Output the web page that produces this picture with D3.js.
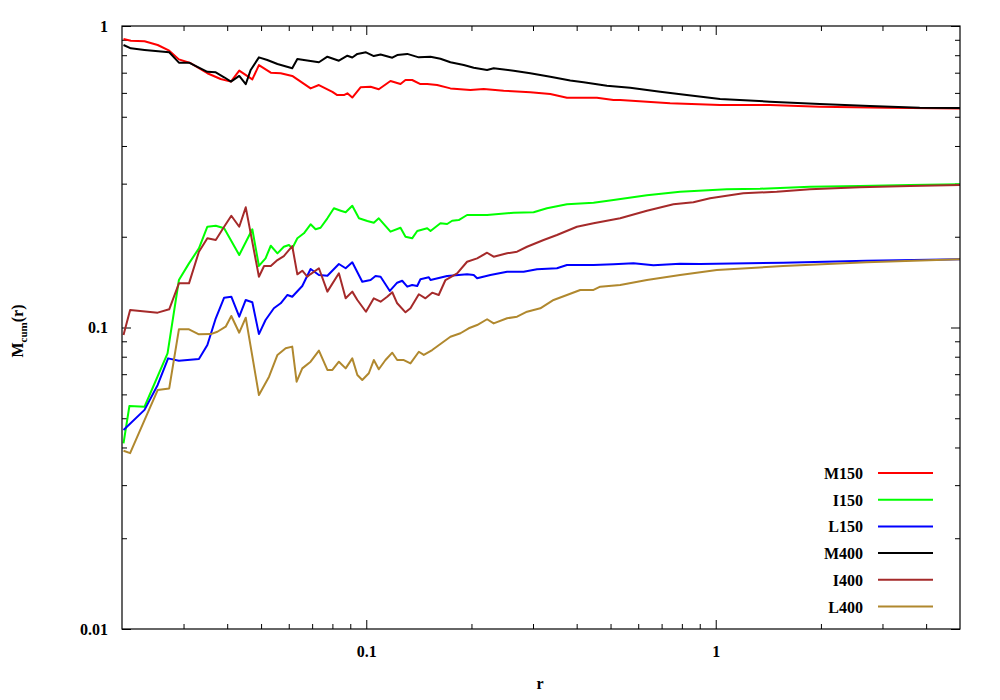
<!DOCTYPE html>
<html>
<head>
<meta charset="utf-8">
<script src="https://cdn.jsdelivr.net/npm/d3@7"></script>
<style>
  html, body { margin: 0; padding: 0; background: #ffffff; }
  svg text { font-family: "Liberation Serif", "Times New Roman", serif; font-weight: bold; }
</style>
</head>
<body>
<svg id="chart" width="1000" height="700"></svg>
<script>
// ---- Data ----
const seriesNames = ["M150", "I150", "L150", "M400", "I400", "L400"];
const seriesColors = ["#ff0000", "#00ff00", "#0000ff", "#000000", "#a52a2a", "#b0882e"];

const rM150 = [0.0202,0.0212,0.0232,0.0253,0.0273,0.0291,0.0315,0.0351,0.0383,0.0410,0.0433,0.0472,0.0493,0.0533,0.0569,0.0614,0.0693,0.0732,0.0800,0.0826,0.0863,0.0883,0.0912,0.0963,0.1029,0.1086,0.1173,0.1253,0.1295,0.1353,0.1429,0.1494,0.1595,0.1741,0.1986,0.2168,0.2473,0.2947,0.3362,0.3752,0.4571,0.5098,0.5328,0.7403,1.029,1.429,1.986,3.080,5.0];
const mM150 = [0.906,0.894,0.890,0.865,0.828,0.775,0.752,0.697,0.667,0.654,0.711,0.665,0.742,0.700,0.697,0.683,0.621,0.637,0.605,0.590,0.590,0.598,0.579,0.626,0.629,0.617,0.657,0.642,0.662,0.662,0.642,0.642,0.637,0.621,0.613,0.618,0.610,0.603,0.595,0.578,0.578,0.568,0.568,0.554,0.547,0.547,0.540,0.536,0.533];

const rI150 = [0.0202,0.0210,0.0232,0.0270,0.0291,0.0311,0.0332,0.0351,0.0371,0.0392,0.0433,0.0472,0.0493,0.0515,0.0533,0.0557,0.0581,0.0601,0.0614,0.0635,0.0663,0.0693,0.0716,0.0740,0.0774,0.0808,0.0845,0.0873,0.0912,0.0953,0.1007,0.1051,0.1086,0.1173,0.1253,0.1295,0.1353,0.1399,0.1494,0.1527,0.1630,0.1704,0.1761,0.1839,0.1943,0.2217,0.2641,0.3012,0.3289,0.3752,0.4470,0.5098,0.6353,0.7907,1.075,1.338,1.860,2.584,3.591,5.0];
const mI150 = [0.0413,0.0549,0.0546,0.0821,0.1437,0.1632,0.1830,0.2159,0.2176,0.2133,0.1739,0.2117,0.1600,0.1696,0.1867,0.1762,0.1853,0.1878,0.1830,0.1976,0.2053,0.2199,0.2117,0.2142,0.2302,0.2485,0.2440,0.2410,0.2535,0.2302,0.2255,0.2226,0.2302,0.2079,0.2142,0.2001,0.1976,0.2090,0.2133,0.2090,0.2216,0.2204,0.2260,0.2272,0.2361,0.2361,0.2403,0.2410,0.2485,0.2562,0.2593,0.2647,0.2745,0.2821,0.2873,0.2886,0.2931,0.2946,0.2970,0.2985];

const rL150 = [0.0202,0.0232,0.0253,0.0271,0.0291,0.0332,0.0351,0.0371,0.0392,0.0411,0.0433,0.0452,0.0472,0.0493,0.0515,0.0544,0.0569,0.0595,0.0614,0.0656,0.0693,0.0732,0.0774,0.0835,0.0873,0.0912,0.0974,0.1029,0.1063,0.1099,0.1168,0.1226,0.1267,0.1310,0.1353,0.1399,0.1429,0.1510,0.1527,0.1704,0.1943,0.2030,0.2076,0.2265,0.2529,0.2820,0.3080,0.3513,0.3752,0.4470,0.5098,0.5816,0.6634,0.7907,0.9018,1.560,2.701,5.0];
const mL150 = [0.0457,0.0533,0.0645,0.0790,0.0776,0.0786,0.0875,0.1073,0.1256,0.1265,0.1086,0.1234,0.1213,0.0951,0.1059,0.1158,0.1203,0.1282,0.1265,0.1373,0.1563,0.1493,0.1485,0.1624,0.1572,0.1645,0.1418,0.1437,0.1481,0.1474,0.1322,0.1408,0.1429,0.1366,0.1384,0.1373,0.1445,0.1467,0.1437,0.1481,0.1501,0.1493,0.1456,0.1493,0.1531,0.1531,0.1560,0.1572,0.1612,0.1612,0.1620,0.1632,0.1608,0.1627,0.1624,0.1640,0.1665,0.1683];

const rM400 = [0.0202,0.0212,0.0232,0.0273,0.0291,0.0311,0.0351,0.0371,0.0392,0.0410,0.0433,0.0452,0.0467,0.0493,0.0521,0.0557,0.0614,0.0635,0.0663,0.0732,0.0774,0.0835,0.0883,0.0912,0.0943,0.0998,0.1051,0.1099,0.1187,0.1226,0.1310,0.1414,0.1527,0.1630,0.1741,0.1901,0.2030,0.2217,0.2315,0.2641,0.2947,0.3362,0.3834,0.4185,0.4882,0.5690,0.6934,0.8263,1.029,1.429,1.986,2.760,3.834,5.0];
const mM400 = [0.865,0.843,0.833,0.818,0.756,0.756,0.705,0.702,0.676,0.654,0.683,0.641,0.715,0.787,0.771,0.748,0.724,0.777,0.771,0.758,0.791,0.767,0.797,0.786,0.808,0.818,0.795,0.804,0.785,0.801,0.808,0.787,0.791,0.779,0.758,0.742,0.727,0.715,0.724,0.711,0.697,0.679,0.659,0.651,0.634,0.624,0.605,0.590,0.573,0.561,0.551,0.543,0.536,0.535];

const rI400 = [0.0202,0.0211,0.0253,0.0273,0.0291,0.0311,0.0332,0.0351,0.0371,0.0392,0.0411,0.0433,0.0452,0.0493,0.0510,0.0533,0.0557,0.0581,0.0614,0.0635,0.0656,0.0678,0.0693,0.0732,0.0774,0.0835,0.0873,0.0912,0.0943,0.0998,0.1051,0.1099,0.1148,0.1187,0.1226,0.1295,0.1338,0.1414,0.1477,0.1544,0.1612,0.1685,0.1820,0.1943,0.2076,0.2217,0.2315,0.2529,0.2701,0.2884,0.3217,0.3513,0.4007,0.4470,0.5328,0.6353,0.7567,0.8630,0.9632,1.199,1.494,1.860,2.584,3.591,5.0];
const mI400 = [0.0944,0.1143,0.1120,0.1149,0.1401,0.1401,0.1784,0.1976,0.1951,0.2159,0.2348,0.2159,0.2504,0.1474,0.1600,0.1600,0.1674,0.1726,0.1863,0.1501,0.1543,0.1474,0.1504,0.1572,0.1315,0.1513,0.1250,0.1315,0.1234,0.1128,0.1250,0.1218,0.1265,0.1309,0.1203,0.1123,0.1158,0.1289,0.1250,0.1305,0.1282,0.1437,0.1513,0.1652,0.1696,0.1770,0.1717,0.1762,0.1784,0.1853,0.1951,0.2027,0.2159,0.2216,0.2302,0.2440,0.2562,0.2601,0.2682,0.2787,0.2821,0.2873,0.2917,0.2946,0.2970];

const rL400 = [0.0202,0.0211,0.0232,0.0253,0.0273,0.0291,0.0311,0.0332,0.0359,0.0375,0.0396,0.0411,0.0433,0.0452,0.0493,0.0527,0.0557,0.0588,0.0614,0.0632,0.0656,0.0693,0.0732,0.0774,0.0800,0.0835,0.0873,0.0912,0.0943,0.0974,0.1017,0.1051,0.1086,0.1135,0.1187,0.1226,0.1281,0.1338,0.1414,0.1461,0.1544,0.1630,0.1741,0.1860,0.1964,0.2076,0.2217,0.2315,0.2529,0.2701,0.2884,0.3148,0.3436,0.3752,0.4095,0.4470,0.4671,0.5328,0.6353,0.7907,1.007,1.560,2.701,5.0];
const mL400 = [0.0390,0.0383,0.0493,0.0620,0.0628,0.0986,0.0986,0.0949,0.0951,0.0968,0.1006,0.1092,0.0961,0.1078,0.0597,0.0687,0.0811,0.0853,0.0864,0.0661,0.0732,0.0770,0.0838,0.0723,0.0723,0.0770,0.0732,0.0790,0.0696,0.0670,0.0705,0.0780,0.0727,0.0780,0.0825,0.0780,0.0780,0.0760,0.0831,0.0811,0.0842,0.0882,0.0932,0.0957,0.0994,0.1019,0.1065,0.1032,0.1073,0.1086,0.1128,0.1158,0.1234,0.1282,0.1332,0.1332,0.1366,0.1384,0.1437,0.1493,0.1551,0.1600,0.1645,0.1683];

const xMajorTicks = [0.1, 1];
const xTickLabels = ["0.1", "1"];
const yMajorTicks = [0.01, 0.1, 1];
const yTickLabels = ["0.01", "0.1", "1"];
const xDomain = [0.02, 5];
const yDomain = [0.01, 1];
const xTitle = "r";

// ---- Build ----
const seriesR = [rM150, rI150, rL150, rM400, rI400, rL400];
const seriesM = [mM150, mI150, mL150, mM400, mI400, mL400];
const series = seriesNames.map((name, i) => ({
  name, color: seriesColors[i],
  pts: seriesR[i].map((r, j) => [r, seriesM[i][j]])
}));

const svg = d3.select("#chart");
const L = 122, R = 960, T = 26, B = 629;
const FS = "16px";

const x = d3.scaleLog().domain(xDomain).range([L, R]);
const y = d3.scaleLog().domain(yDomain).range([B, T]);

const isMajor = v => Math.abs(Math.log10(v) - Math.round(Math.log10(v))) < 1e-9;
const xMinor = x.ticks().filter(v => !isMajor(v) && v > xDomain[0] * 1.0001 && v < xDomain[1] * 0.9999);
const yMinor = y.ticks().filter(v => !isMajor(v));

const fmtX = v => xTickLabels[xMajorTicks.indexOf(v)];
const fmtY = v => yTickLabels[yMajorTicks.indexOf(v)];

function styleAxis(g) {
  g.select(".domain").remove();
  g.selectAll(".tick line").attr("stroke", "#000").attr("stroke-width", 1);
  g.selectAll(".tick text").attr("fill", "#000")
    .style("font-family", '"Liberation Serif", serif').style("font-weight", "bold").style("font-size", FS);
}

// bottom
svg.append("g").attr("transform", `translate(0,${B})`)
  .call(d3.axisBottom(x).tickValues(xMajorTicks).tickSize(-9).tickSizeOuter(0).tickPadding(17).tickFormat(fmtX))
  .call(styleAxis);
svg.append("g").attr("transform", `translate(0,${B})`)
  .call(d3.axisBottom(x).tickValues(xMinor).tickSize(-5).tickSizeOuter(0).tickFormat(""))
  .call(styleAxis);
// top
svg.append("g").attr("transform", `translate(0,${T})`)
  .call(d3.axisTop(x).tickValues(xMajorTicks).tickSize(-9).tickSizeOuter(0).tickFormat(""))
  .call(styleAxis);
svg.append("g").attr("transform", `translate(0,${T})`)
  .call(d3.axisTop(x).tickValues(xMinor).tickSize(-5).tickSizeOuter(0).tickFormat(""))
  .call(styleAxis);
// left
svg.append("g").attr("transform", `translate(${L},0)`)
  .call(d3.axisLeft(y).tickValues(yMajorTicks).tickSize(-9).tickSizeOuter(0).tickPadding(14).tickFormat(fmtY))
  .call(styleAxis);
svg.append("g").attr("transform", `translate(${L},0)`)
  .call(d3.axisLeft(y).tickValues(yMinor).tickSize(-5).tickSizeOuter(0).tickFormat(""))
  .call(styleAxis);
// right
svg.append("g").attr("transform", `translate(${R},0)`)
  .call(d3.axisRight(y).tickValues(yMajorTicks).tickSize(-9).tickSizeOuter(0).tickFormat(""))
  .call(styleAxis);
svg.append("g").attr("transform", `translate(${R},0)`)
  .call(d3.axisRight(y).tickValues(yMinor).tickSize(-5).tickSizeOuter(0).tickFormat(""))
  .call(styleAxis);

// clip
svg.append("clipPath").attr("id", "plotclip")
  .append("rect").attr("x", L).attr("y", T).attr("width", R - L).attr("height", B - T);

const line = d3.line().x(d => x(d[0])).y(d => y(d[1]));
svg.append("g").attr("clip-path", "url(#plotclip)")
  .selectAll("path").data(series).join("path")
  .attr("d", d => line(d.pts))
  .attr("fill", "none")
  .attr("stroke", d => d.color)
  .attr("stroke-width", 2)
  .attr("stroke-linejoin", "round");

// frame
svg.append("rect").attr("x", L).attr("y", T).attr("width", R - L).attr("height", B - T)
  .attr("fill", "none").attr("stroke", "#000").attr("stroke-width", 1.2);

// axis titles
svg.append("text").attr("x", (L + R) / 2 - 1).attr("y", 689)
  .attr("text-anchor", "middle").style("font-size", FS).text(xTitle);

const yt = svg.append("text").attr("transform", "translate(23,331) rotate(-90)")
  .attr("text-anchor", "middle").style("font-size", FS);
yt.append("tspan").text("M");
yt.append("tspan").attr("dy", 4).style("font-size", "11px").text("cum");
yt.append("tspan").attr("dy", -4).text("(r)");

// legend
const lg = svg.append("g");
const rows = lg.selectAll("g").data(series).join("g")
  .attr("transform", (d, i) => `translate(0,${473 + i * 26.7})`);
rows.append("text").attr("x", 863).attr("y", 6).attr("text-anchor", "end")
  .style("font-size", FS).text(d => d.name);
rows.append("line").attr("x1", 878).attr("x2", 933).attr("y1", 0).attr("y2", 0)
  .attr("stroke", d => d.color).attr("stroke-width", 2);
</script>
</body>
</html>
